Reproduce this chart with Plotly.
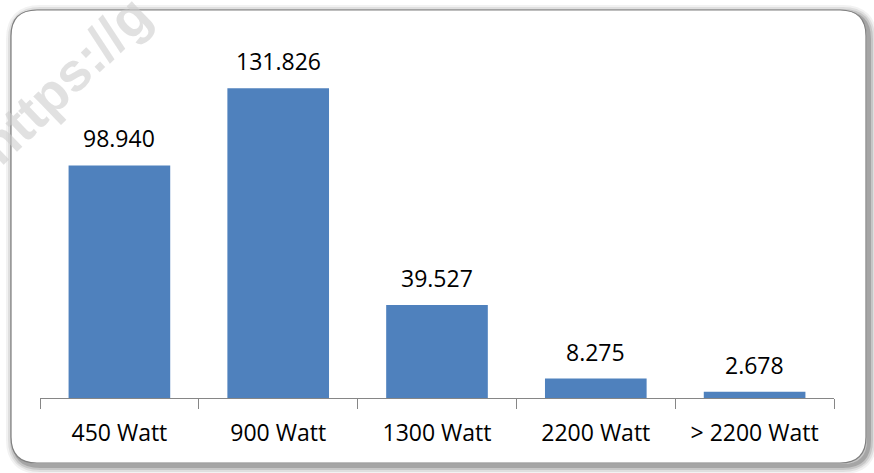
import plotly.graph_objects as go

categories = ["450 Watt", "900 Watt", "1300 Watt", "2200 Watt", "> 2200 Watt"]
values = [98.940, 131.826, 39.527, 8.275, 2.678]
labels = ["98.940", "131.826", "39.527", "8.275", "2.678"]

W, H = 874, 473
ML, MR, MT, MB = 40, 40, 69, 75
PW, PH = W - ML - MR, H - MT - MB

def fx(px):
    return (px - ML) / PW

def fy(py):
    return (H - MB - py) / PH

def rrect(x0, y0, x1, y1, r):
    pts = [
        f"M {fx(x0 + r)} {fy(y0)}",
        f"L {fx(x1 - r)} {fy(y0)}",
        f"Q {fx(x1)} {fy(y0)} {fx(x1)} {fy(y0 + r)}",
        f"L {fx(x1)} {fy(y1 - r)}",
        f"Q {fx(x1)} {fy(y1)} {fx(x1 - r)} {fy(y1)}",
        f"L {fx(x0 + r)} {fy(y1)}",
        f"Q {fx(x0)} {fy(y1)} {fx(x0)} {fy(y1 - r)}",
        f"L {fx(x0)} {fy(y0 + r)}",
        f"Q {fx(x0)} {fy(y0)} {fx(x0 + r)} {fy(y0)}",
        "Z",
    ]
    return " ".join(pts)

fig = go.Figure()
fig.add_trace(go.Bar(
    x=categories, y=values,
    marker=dict(color="#4F81BD", line=dict(width=0)),
    hoverinfo="skip",
))

shapes = []
# shadow layers
for op, w in [(0.08, 16), (0.12, 12), (0.18, 8), (0.3, 4)]:
    shapes.append(dict(type="path", xref="paper", yref="paper",
                       path=rrect(14, 13, 869, 466, 26),
                       line=dict(color=f"rgba(90,90,90,{op})", width=w),
                       fillcolor="rgba(0,0,0,0)", layer="below"))
shapes.append(dict(type="path", xref="paper", yref="paper",
                   path=rrect(11, 10, 866, 463, 26),
                   line=dict(color="#7f7f7f", width=1.2),
                   fillcolor="white", layer="below"))

annotations = []
# faint watermark (drawn first, beneath labels)
annotations.append(dict(x=fx(64), y=fy(80), xref="paper", yref="paper",
                        text="<b>https://g</b>", showarrow=False, textangle=-44,
                        font=dict(family="Liberation Sans", size=54, color="rgba(205,205,205,0.6)"),
                        xanchor="center", yanchor="middle"))
for c, v, t in zip(categories, values, labels):
    annotations.append(dict(x=c, y=v, xref="x", yref="y", text=t,
                            showarrow=False, yshift=27,
                            font=dict(family="Open Sans", size=23, color="black")))

fig.update_layout(
    width=W, height=H,
    margin=dict(l=ML, r=MR, t=MT, b=MB),
    paper_bgcolor="white", plot_bgcolor="rgba(0,0,0,0)",
    bargap=0.36,
    showlegend=False,
    shapes=shapes,
    annotations=annotations,
    xaxis=dict(
        showline=True, linecolor="#868686", linewidth=1.2,
        ticks="outside", tickson="boundaries", ticklen=10, tickcolor="#868686",
        tickwidth=1.2, showgrid=False, fixedrange=True,
        ticklabelstandoff=14,
        tickfont=dict(family="Open Sans", size=23, color="black"),
    ),
    yaxis=dict(range=[0, 140], visible=False, showgrid=False, fixedrange=True),
)

fig.write_html("out.html", config={"displayModeBar": False},
               post_script="document.body.style.margin='0';document.body.style.padding='0';")
